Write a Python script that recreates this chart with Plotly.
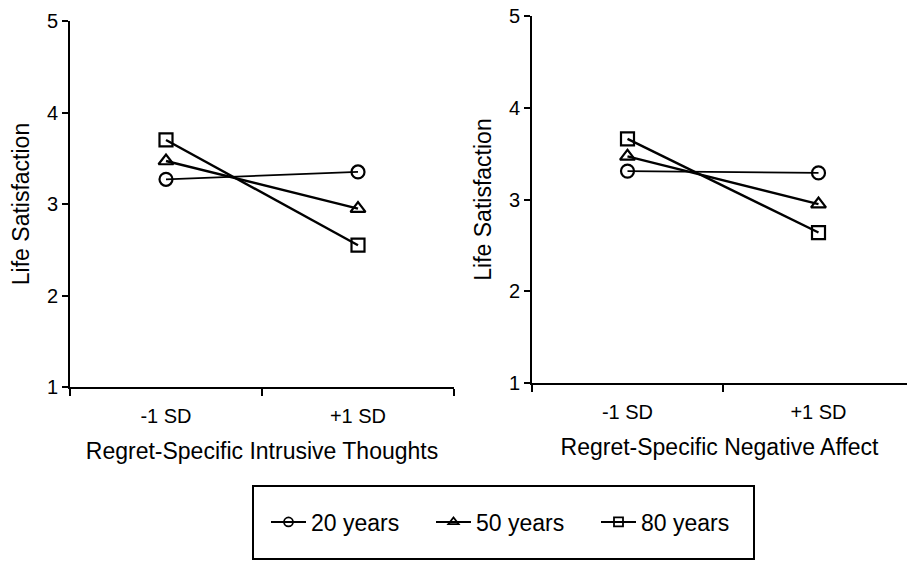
import plotly.graph_objects as go

categories = ["-1 SD", "+1 SD"]
x_pos = [0, 1]
groups = ["20 years", "50 years", "80 years"]
symbols = ["circle-open", "triangle-up-open", "square-open"]
line_widths = [1.8, 2.4, 2.4]

left_values = {
    "20 years": [3.27, 3.35],
    "50 years": [3.47, 2.95],
    "80 years": [3.70, 2.55],
}
right_values = {
    "20 years": [3.31, 3.29],
    "50 years": [3.47, 2.95],
    "80 years": [3.66, 2.64],
}
y_ticks = [1, 2, 3, 4, 5]
left_xtitle = "Regret-Specific Intrusive Thoughts"
right_xtitle = "Regret-Specific Negative Affect"
y_title = "Life Satisfaction"

FONT = "Liberation Sans, Arial, sans-serif"
W, H = 907, 561
OFF = 0  # page body margin removed via post_script

fig = go.Figure()
for i, g in enumerate(groups):
    for vals, xa, ya in [(left_values, "x", "y"), (right_values, "x2", "y2")]:
        fig.add_trace(go.Scatter(
            x=x_pos, y=vals[g], xaxis=xa, yaxis=ya, name=g, showlegend=False,
            mode="lines+markers",
            line=dict(color="black", width=line_widths[i]),
            marker=dict(symbol=symbols[i], size=13, color="black",
                        line=dict(color="black", width=2.2)),
        ))
# legend entries (smaller symbols, as in the reference key)
for i, g in enumerate(groups):
    fig.add_trace(go.Scatter(
        x=[None], y=[None], name=g, mode="lines+markers", showlegend=True,
        line=dict(color="black", width=2),
        marker=dict(symbol=symbols[i], size=9, color="black", line=dict(color="black", width=1.8)),
    ))

def px_x(p):
    return (p - OFF) / W

def px_y(p):
    return 1 - (p - OFF) / H

axis_common = dict(showline=True, linecolor="black", linewidth=2, showgrid=False,
                   zeroline=False, automargin=False, ticklabeloverflow="allow",
                   tickfont=dict(size=20, color="black", family=FONT))

xcommon = dict(axis_common, tickmode="array", tickvals=x_pos, ticktext=categories,
               ticks="outside", ticklen=10, tickcolor="rgba(0,0,0,0)",
               minor=dict(ticks="outside", tickmode="linear", tick0=-0.5, dtick=1,
                          ticklen=7, tickwidth=2, tickcolor="black", showgrid=False),
               title=dict(font=dict(size=23, color="black", family=FONT), standoff=17))

ycommon = dict(axis_common, range=[1, 5], tickvals=y_ticks, ticks="outside", ticklen=6,
               tickwidth=2, tickcolor="black",
               title=dict(text=y_title, font=dict(size=23, color="black", family=FONT), standoff=11))

fig.update_layout(
    width=W, height=H,
    margin=dict(l=0, r=0, t=0, b=0, autoexpand=False),
    paper_bgcolor="white", plot_bgcolor="white",
    font=dict(family=FONT, color="black"),
    xaxis=dict(xcommon, domain=[px_x(70), px_x(454)], range=[-0.5, 1.5], anchor="y",
               title=dict(xcommon["title"], text=left_xtitle)),
    yaxis=dict(ycommon, domain=[px_y(387), px_y(21)], anchor="x"),
    xaxis2=dict(xcommon, domain=[px_x(532), px_x(907)], range=[-0.5, (907 - 532) / 191 - 0.5], anchor="y2",
                title=dict(xcommon["title"], text=right_xtitle)),
    yaxis2=dict(ycommon, domain=[px_y(383), px_y(16)], anchor="x2"),
    showlegend=True,
    legend=dict(orientation="h", x=px_x(266), xanchor="left", y=px_y(522), yanchor="middle",
                font=dict(size=23, color="black", family=FONT), bgcolor="rgba(0,0,0,0)",
                itemwidth=35, entrywidth=115, entrywidthmode="pixels", traceorder="normal"),
    shapes=[dict(type="rect", xref="paper", yref="paper",
                 x0=px_x(253), x1=px_x(754), y0=px_y(559), y1=px_y(486),
                 line=dict(color="black", width=2))],
)

fig.write_html("out.html", config={"displayModeBar": False},
               post_script="document.body.style.margin='0';document.body.style.padding='0';")
